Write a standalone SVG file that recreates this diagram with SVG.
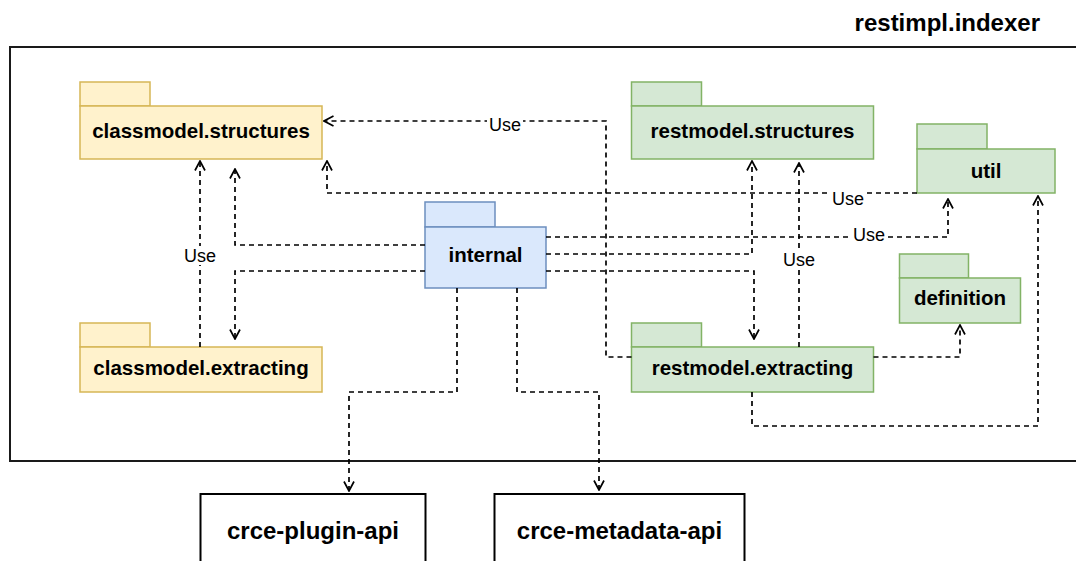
<svg xmlns="http://www.w3.org/2000/svg" width="1076" height="561" viewBox="0 0 1076 561">
<style>
.lbl{font-family:"Liberation Sans",Arial,sans-serif;font-weight:bold;font-size:20.5px;text-anchor:middle;fill:#000}
.big{font-family:"Liberation Sans",Arial,sans-serif;font-weight:bold;font-size:24px;fill:#000}
.use{font-family:"Liberation Sans",Arial,sans-serif;font-size:18px;text-anchor:middle;fill:#000}
.y{fill:#fff2cc;stroke:#d6b656;stroke-width:1.5}
.g{fill:#d5e8d4;stroke:#82b366;stroke-width:1.5}
.b{fill:#dae8fc;stroke:#6c8ebf;stroke-width:1.5}
.ext{fill:#fff;stroke:#000;stroke-width:2}
.con path{fill:none;stroke:#000;stroke-width:1.7;stroke-dasharray:5 4;marker-end:url(#arr)}
.ub{fill:#fff}
</style>
<defs>
<marker id="arr" viewBox="0 0 12 12" refX="11" refY="6" markerWidth="12" markerHeight="12" markerUnits="userSpaceOnUse" orient="auto">
<path d="M1.5,1 L11,6 L1.5,11" fill="none" stroke="#000" stroke-width="1.7" stroke-dasharray="none"/>
</marker>
</defs>
<rect width="1076" height="561" fill="#fff"/>
<g id="frame">
<rect x="10" y="47" width="1072" height="414" fill="none" stroke="#1a1a1a" stroke-width="2"/>
<text class="big" x="1040" y="31" text-anchor="end">restimpl.indexer</text>
</g>
<g id="classmodel-structures">
<rect class="y" x="80" y="82" width="70" height="24"/>
<rect class="y" x="80" y="106" width="242" height="53"/>
<text class="lbl" x="201" y="138">classmodel.structures</text>
</g>
<g id="classmodel-extracting">
<rect class="y" x="80" y="323" width="70" height="24"/>
<rect class="y" x="80" y="347" width="242" height="45"/>
<text class="lbl" x="201" y="375">classmodel.extracting</text>
</g>
<g id="internal">
<rect class="b" x="425" y="202" width="70" height="25"/>
<rect class="b" x="425" y="227" width="121" height="61"/>
<text class="lbl" x="485.5" y="262">internal</text>
</g>
<g id="restmodel-structures">
<rect class="g" x="631.5" y="82" width="70" height="24"/>
<rect class="g" x="631.5" y="106" width="242" height="53"/>
<text class="lbl" x="752.5" y="138">restmodel.structures</text>
</g>
<g id="restmodel-extracting">
<rect class="g" x="631.5" y="323" width="70" height="24"/>
<rect class="g" x="631.5" y="347" width="242" height="45"/>
<text class="lbl" x="752.5" y="375">restmodel.extracting</text>
</g>
<g id="util">
<rect class="g" x="917" y="124" width="70" height="25"/>
<rect class="g" x="917" y="149" width="138" height="44"/>
<text class="lbl" x="986" y="178">util</text>
</g>
<g id="definition">
<rect class="g" x="899.5" y="254" width="69" height="24"/>
<rect class="g" x="899.5" y="278" width="121" height="45"/>
<text class="lbl" x="960" y="305">definition</text>
</g>
<g id="crce-plugin-api">
<rect class="ext" x="200.5" y="494" width="225" height="90"/>
<text class="big" x="313" y="539" text-anchor="middle">crce-plugin-api</text>
</g>
<g id="crce-metadata-api">
<rect class="ext" x="494.5" y="494" width="250" height="90"/>
<text class="big" x="619.5" y="539" text-anchor="middle">crce-metadata-api</text>
</g>
<g id="connectors" class="con">
<path d="M631.5,357 H606 V121 H324"/>
<path d="M200,347 V161"/>
<path d="M425,245 H235 V169"/>
<path d="M425,271 H235 V339"/>
<path d="M917,193 H327 V161"/>
<path d="M546,237 H948 V199"/>
<path d="M546,254 H752 V161"/>
<path d="M546,271 H754 V339"/>
<path d="M799,347 V163"/>
<path d="M752,392 V426 H1038 V196"/>
<path d="M873.5,357 H960 V325"/>
<path d="M457,288 V392 H349 V491"/>
<path d="M517,288 V392 H599 V490"/>
</g>
<g id="labels">
<rect class="ub" x="487" y="115" width="36" height="19"/>
<text class="use" x="505" y="131">Use</text>
<rect class="ub" x="182" y="246" width="36" height="19"/>
<text class="use" x="200" y="262">Use</text>
<rect class="ub" x="830" y="189" width="36" height="19"/>
<text class="use" x="848" y="205">Use</text>
<rect class="ub" x="851" y="225" width="36" height="19"/>
<text class="use" x="869" y="241">Use</text>
<rect class="ub" x="781" y="250" width="36" height="19"/>
<text class="use" x="799" y="266">Use</text>
</g>
</svg>
